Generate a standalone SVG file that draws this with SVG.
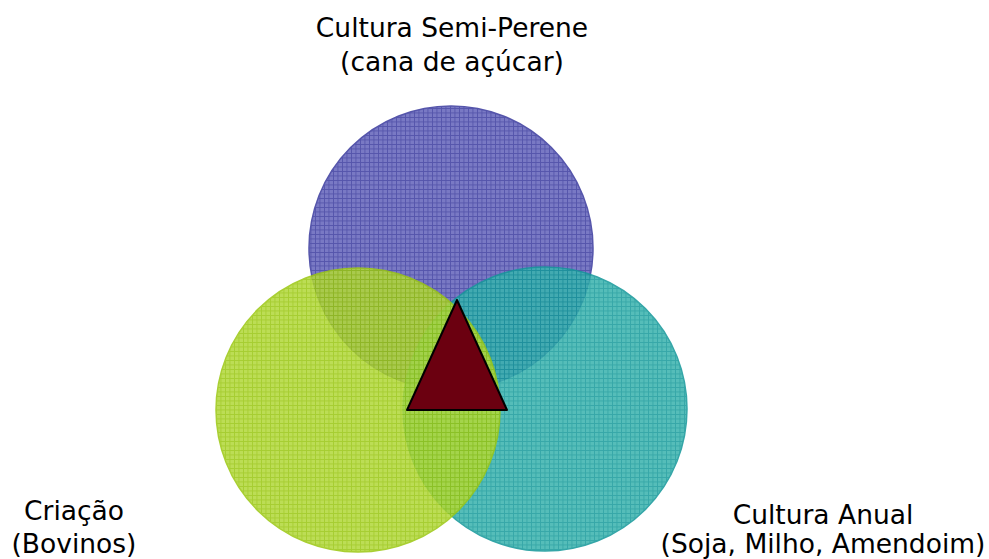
<svg xmlns="http://www.w3.org/2000/svg" width="989" height="559" viewBox="0 0 989 559">
<style>
.lbl{font-family:"DejaVu Sans","Liberation Sans",sans-serif;font-size:26.5px;fill:#000;text-anchor:middle}
.circ{opacity:0.86}
.grid{fill:none;stroke-width:1;shape-rendering:crispEdges}
</style>
<defs>
<pattern id="pBlue" patternUnits="userSpaceOnUse" width="4.5" height="4.5">
<rect width="4.5" height="4.5" fill="#6464bb"/>
<path class="grid" d="M0 0.5H4.5M0.5 0V4.5" stroke="#3a3a9e"/>
</pattern>
<pattern id="pGreen" patternUnits="userSpaceOnUse" width="4.5" height="4.5">
<rect width="4.5" height="4.5" fill="#b2d83a"/>
<path class="grid" d="M0 0.5H4.5M0.5 0V4.5" stroke="#98c510"/>
</pattern>
<pattern id="pTeal" patternUnits="userSpaceOnUse" width="4.5" height="4.5">
<rect width="4.5" height="4.5" fill="#3ab3ae"/>
<path class="grid" d="M0 0.5H4.5M0.5 0V4.5" stroke="#16999a"/>
</pattern>
</defs>
<g id="node-semi-perene">
<circle class="circ" cx="451" cy="248" r="142" fill="url(#pBlue)" stroke="#3a3a9e" stroke-width="1.5"/>
<text class="lbl" x="452" y="37">Cultura Semi-Perene</text>
<text class="lbl" x="452" y="71">(cana de açúcar)</text>
</g>
<g id="node-anual">
<circle class="circ" cx="545" cy="409" r="142" fill="url(#pTeal)" stroke="#14989a" stroke-width="1.5"/>
<text class="lbl" x="823" y="524">Cultura Anual</text>
<text class="lbl" x="823" y="553">(Soja, Milho, Amendoim)</text>
</g>
<g id="node-criacao">
<circle class="circ" cx="358" cy="410" r="142" fill="url(#pGreen)" stroke="#9cc812" stroke-width="1.5"/>
<text class="lbl" x="74" y="520">Criação</text>
<text class="lbl" x="74" y="553">(Bovinos)</text>
</g>
<g id="node-center">
<polygon points="457,300 407,410 507,410" fill="#6b0010" stroke="#000" stroke-width="2" stroke-linejoin="round"/>
</g>
<g id="connectors"></g>
</svg>
